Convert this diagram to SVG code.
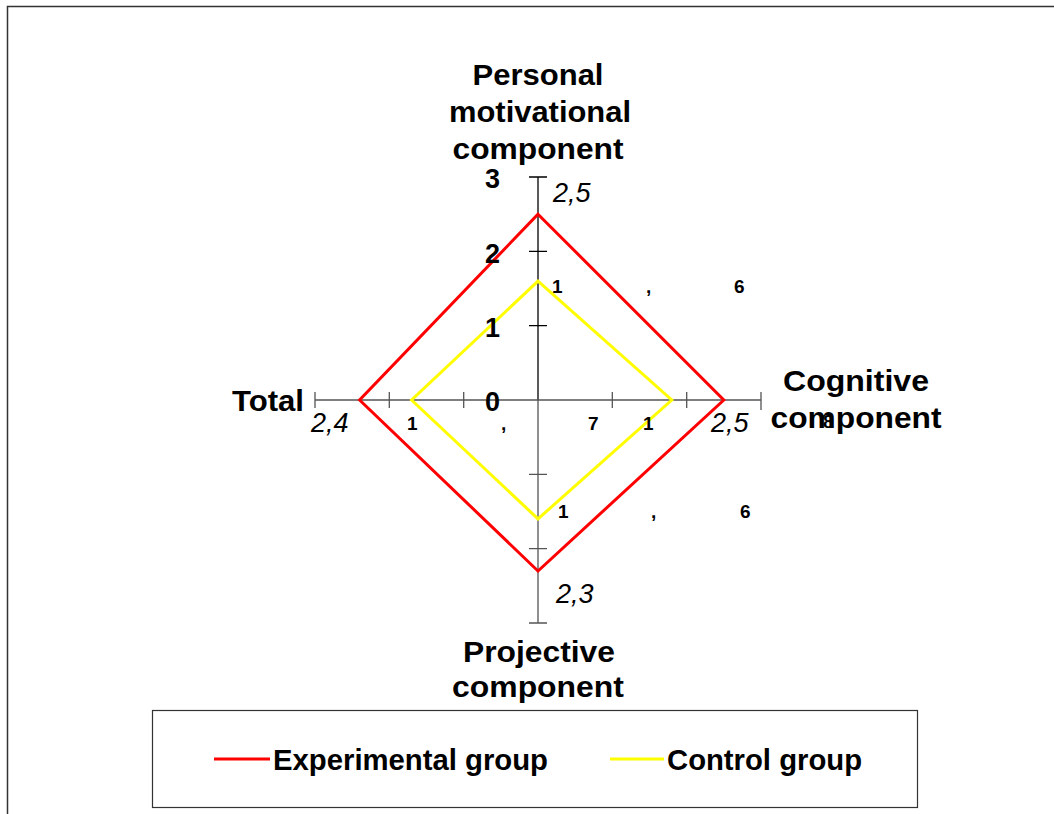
<svg xmlns="http://www.w3.org/2000/svg" width="1054" height="814" viewBox="0 0 1054 814">
<style>
.t{font-family:"Liberation Sans",Arial,sans-serif;font-weight:bold;fill:#000}
.big{font-size:30px}
.num{font-size:27px}
.sm{font-size:19px}
.it{font-family:"Liberation Sans",Arial,sans-serif;font-style:italic;font-size:27px;fill:#000}
.ax{stroke:#000;stroke-width:1.3;fill:none}
.axg{stroke:#555;stroke-width:1.3;fill:none}
.red{stroke:#ff0000;stroke-width:3;fill:none}
.yel{stroke:#ffff00;stroke-width:3;fill:none}
</style>
<rect x="0" y="0" width="1054" height="814" fill="#fff"/>
<path d="M7.5 814 V6.5 H1054" stroke="#333" stroke-width="1.5" fill="none"/>
<g id="axes">
<path class="ax" d="M538 177 V400"/>
<path class="axg" d="M538 400 V623 M315 400 H761"/>
<path class="ax" d="M529 177 H547 M529 251.3 H547 M529 325.7 H547"/>
<path class="axg" d="M529 474.3 H547 M529 548.7 H547 M529 623 H547"/>
<path class="axg" d="M315 392 V408 M389.3 392 V408 M463.7 392 V408 M612.3 392 V408 M686.7 392 V408 M761 392 V410"/>
</g>
<g id="series-experimental">
<polygon class="red" points="538,214.2 723.8,400 538,571 359.6,400"/>
</g>
<g id="series-control">
<polygon class="yel" points="538,281.1 671.8,400 538,518.9 411.6,400"/>
</g>
<g id="axis-labels">
<text class="t big" x="538" y="85" text-anchor="middle" textLength="131" lengthAdjust="spacingAndGlyphs">Personal</text>
<text class="t big" x="540" y="122" text-anchor="middle" textLength="182" lengthAdjust="spacingAndGlyphs">motivational</text>
<text class="t big" x="538" y="159" text-anchor="middle" textLength="171" lengthAdjust="spacingAndGlyphs">component</text>
<text class="t big" x="232" y="411" textLength="72" lengthAdjust="spacingAndGlyphs">Total</text>
<text class="t big" x="856" y="391" text-anchor="middle" textLength="146" lengthAdjust="spacingAndGlyphs">Cognitive</text>
<text class="t big" x="856" y="428" text-anchor="middle" textLength="171" lengthAdjust="spacingAndGlyphs">component</text>
<text class="t big" x="539" y="662" text-anchor="middle" textLength="152" lengthAdjust="spacingAndGlyphs">Projective</text>
<text class="t big" x="538" y="697" text-anchor="middle" textLength="172" lengthAdjust="spacingAndGlyphs">component</text>
</g>
<g id="scale-labels">
<text class="t num" x="485" y="188">3</text>
<text class="t num" x="485" y="263">2</text>
<text class="t num" x="485" y="337">1</text>
<text class="t num" x="485" y="411">0</text>
</g>
<g id="value-labels">
<text class="it" x="553" y="202">2,5</text>
<text class="it" x="311" y="432">2,4</text>
<text class="it" x="711" y="432">2,5</text>
<text class="it" x="556" y="603">2,3</text>
<text class="t sm" x="552" y="293">1</text>
<text class="t sm" x="646" y="293">,</text>
<text class="t sm" x="734" y="293">6</text>
<text class="t sm" x="407" y="430">1</text>
<text class="t sm" x="501" y="430">,</text>
<text class="t sm" x="588" y="430">7</text>
<text class="t sm" x="643" y="430">1</text>
<text class="t sm" x="823" y="428">8</text>
<text class="t sm" x="558" y="518">1</text>
<text class="t sm" x="651" y="518">,</text>
<text class="t sm" x="740" y="518">6</text>
</g>
<g id="legend">
<rect x="152.5" y="710.5" width="765" height="97" fill="#fff" stroke="#333" stroke-width="1.2"/>
<line class="red" x1="214" y1="759" x2="270" y2="759"/>
<text class="t big" x="273" y="770" textLength="275" lengthAdjust="spacingAndGlyphs">Experimental group</text>
<line class="yel" x1="610" y1="759" x2="664" y2="759"/>
<text class="t big" x="667" y="770" textLength="195" lengthAdjust="spacingAndGlyphs">Control group</text>
</g>
</svg>
